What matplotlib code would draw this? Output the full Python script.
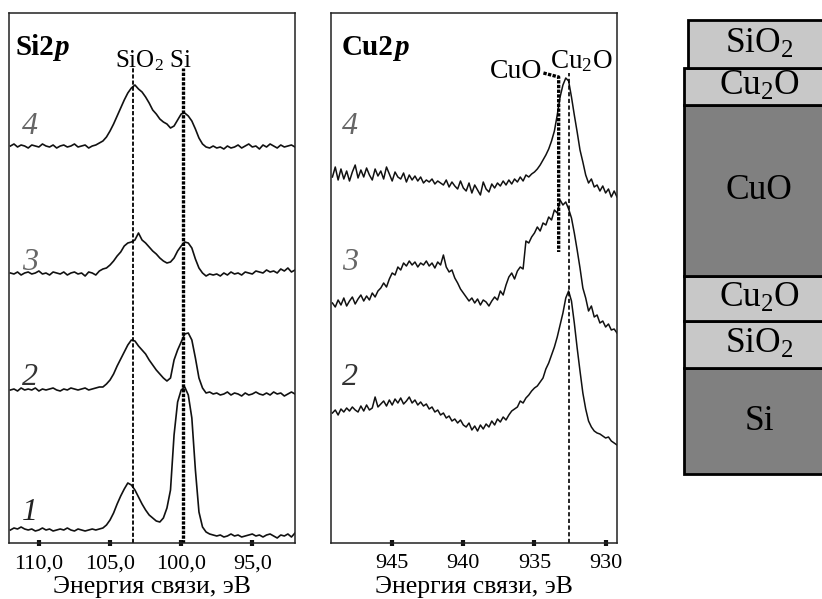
import numpy as np
import matplotlib
matplotlib.use('Agg')
import matplotlib.pyplot as plt

plt.rcParams['font.family'] = ['Liberation Serif', 'DejaVu Serif']
plt.rcParams['mathtext.fontset'] = 'custom'
plt.rcParams['mathtext.rm'] = 'Liberation Serif'
plt.rcParams['mathtext.it'] = 'Liberation Serif:italic'
plt.rcParams['mathtext.bf'] = 'Liberation Serif:bold'
plt.rcParams['lines.scale_dashes'] = False

# ---------------- Si2p data ----------------
si_energy = np.linspace(112.0, 92.0, 81)
si_offsets = [13, 153, 270, 397]          # spectra 1, 2, 3, 4
si_labels = ['1', '2', '3', '4']
si_spec1 = [0, 2, 1, 3, 1, 0, 1, -1, 0, 2, 0, 1, -1, 0, 1, 0, 2, 0, -1, 1, 0, -1, 0, 1, 0, 1,
            2, 5, 10, 17, 26, 34, 41, 47, 45, 40, 33, 26, 20, 15, 12, 9, 8, 12, 22, 40, 95, 128,
            140, 143, 135, 112, 60, 18, 3, -2, -4, -5,
            -6, -5, -7, -6, -4, -6, -5, -7, -6, -5, -4, -6, -5, -7, -5, -4, -6, -8, -5, -6, -4, -7, -3]
si_spec2 = [0, 1, -1, 2, 0, 1, 0, 2, -1, 1, 0, 1, 2, 0, -1, 1, 0, 2, 1, 0, 1, 2, 0, 1, 2, 3,
            3, 6, 10, 16, 24, 31, 38, 45, 50, 49, 44, 40, 36, 30, 25, 20, 16, 12, 9, 12, 30, 40,
            48, 56, 57, 50, 32, 12, 2, -3, -2, -4,
            -3, -5, -4, -2, -5, -3, -4, -6, -3, -5, -4, -2, -4, -5, -3, -5, -2, -4, -3, -6, -4, -2, -4]
si_spec3 = [0, -1, 1, -2, 0, 1, -1, 0, 2, -1, 0, -2, 1, 0, -1, 1, -2, 0, 1, -1, 0, -3, 1, 0, -2, 2,
            4, 5, 8, 12, 17, 21, 27, 30, 31, 33, 40, 33, 30, 26, 22, 19, 15, 12, 10, 11, 15, 22,
            27, 31, 30, 25, 14, 5, 0, -3, -1, -2,
            -1, -3, 0, -2, 1, -1, 0, -2, 1, 0, -1, 2, 1, 0, 3, 1, 2, 0, 4, 2, 5, 1, 3]
si_spec4 = [0, 2, -1, 1, 0, -2, 1, 0, -1, 2, 0, -1, 1, -2, 0, 1, -1, 0, 2, -1, 0, 1, -2, 0, 1, 3,
            5, 9, 15, 22, 30, 38, 46, 53, 58, 61, 57, 54, 49, 43, 36, 32, 27, 24, 22, 18, 20, 26,
            32, 33, 30, 25, 17, 8, 2, -1, -2, 0,
            -2, -1, -3, 0, -2, -1, 1, -2, 0, 2, -1, 0, -3, 1, -1, 2, 0, -2, 1, -1, 0, 1, -1]
si_ticks = [110.0, 105.0, 100.0, 95.0]
si_ticklabels = ['110,0', '105,0', '100,0', '95,0']
si_sio2_pos = 103.4
si_si_pos = 99.9

# ---------------- Cu2p data ----------------
cu_energy = np.linspace(949.2, 929.2, 101)
cu_offsets = [130, 240, 366]              # spectra 2, 3, 4
cu_labels = ['2', '3', '4']
cu_spec2 = [0, 3, -2, 4, 1, 5, 2, 6, 3, 1, 7, 2, 8, 3, 5, 16, 6,
            9, 12, 7, 13, 8, 14, 10, 15, 9, 12, 16, 10, 13, 8, 11,
            7, 9, 4, 6, 1, 3, -2, 0, -5, -3, -8, -6, -10, -7, -12,
            -14, -10, -17, -13, -18, -12, -16, -11, -14, -8, -12, -6, -9, -4, -7,
            -2, 2, 4, 6, 12, 10, 15, 18, 22, 25,
            27, 31, 35, 44, 50, 58, 66, 76, 88, 100, 115, 122,
            112, 90, 65, 42, 20, 4, -8, -14, -18, -20, -21, -23, -25, -24, -28, -30, -32]
cu_spec3 = [0, -4, 3, -2, 5, -3, 2, 6, -1, 4, 8, 2, 7, 3, 10, 6, 12,
            15, 20, 16, 24, 30, 28, 36, 33, 40, 37, 42, 38, 41, 36, 40,
            38, 42, 37, 40, 35, 41, 38, 48, 36, 31, 33, 25, 20, 14, 10,
            6, 2, 5, 0, 4, -2, 3, 1, -3, 2, 6, 3, 12, 8, 18,
            26, 30, 24, 32, 36, 34, 62, 60, 66, 70,
            76, 72, 80, 78, 86, 83, 93, 90, 103, 98, 101, 94,
            85, 70, 53, 35, 15, 5, -8, -3, -14, -12, -20, -18, -24, -21, -27, -26, -30]
cu_spec4 = [0, 10, -3, 8, -2, 6, -4, 5, 12, -1, 7, 0, 9, 2, -3, 8, 1,
            6, -2, 10, 3, -4, 5, 0, -2, 4, -5, 2, -3, 1, -4, 0,
            -6, -3, -5, -2, -7, -4, -6, -8, -3, -10, -5, -9, -12, -4, -11,
            -14, -6, -16, -8, -13, -18, -5, -12, -15, -7, -11, -6, -9, -4, -8,
            -3, -7, -2, -5, 0, -4, 2, 0, 3, 5,
            8, 12, 17, 22, 28, 36, 46, 62, 80, 92, 99, 96,
            80, 62, 45, 27, 15, 2, -6, -2, -10, -8, -14, -9, -16, -12, -20, -14, -20]
cu_ticks = [945, 940, 935, 930]
cu_ticklabels = ['945', '940', '935', '930']
cu_cuo_pos = 933.3
cu_cu2o_pos = 932.6

# ---------------- layer stack (bottom -> top) ----------------
layer_names = ['Si', 'SiO$_2$', 'Cu$_2$O', 'CuO', 'Cu$_2$O', 'SiO$_2$']
layer_thickness = [106, 47, 45, 171, 37, 48]
layer_colors = ['#808080', '#c8c8c8', '#c8c8c8', '#808080', '#c8c8c8', '#c8c8c8']

xlabel = 'Энергия связи, эВ'

W, H = 822, 599
fig = plt.figure(figsize=(W / 100, H / 100), dpi=100)

def px_axes(x0, y0, x1, y1):
    return fig.add_axes([x0 / W, (H - y1) / H, (x1 - x0) / W, (y1 - y0) / H])

ax1 = px_axes(9, 13, 295, 543)
ax2 = px_axes(331, 13, 617, 543)
ax3 = px_axes(684, 20, 830, 474)

num_colors = {'1': '#222222', '2': '#333333', '3': '#666666', '4': '#666666'}
label_y = {'1': 0.057, '2': 0.313, '3': 0.530, '4': 0.785}

def style_axis(ax, ticks, ticklabels):
    for s in ax.spines.values():
        s.set_linewidth(1.1)
        s.set_color('#222222')
    ax.set_yticks([])
    ax.set_xticks(ticks)
    ax.set_xticklabels(ticklabels)
    ax.tick_params(axis='x', direction='inout', length=4, width=3, pad=6,
                   labelsize=16, color='#111111')
    ax.set_xlabel(xlabel, fontsize=18.5, labelpad=2)
    ax.set_ylim(0, 530)

# ---- Si2p panel ----
for spec, off in zip([si_spec1, si_spec2, si_spec3, si_spec4], si_offsets):
    ax1.plot(si_energy, np.array(spec) + off, color='#111111', lw=1.2)
ax1.set_xlim(112.1, 92.0)
style_axis(ax1, si_ticks, si_ticklabels)
ax1.plot([si_sio2_pos, si_sio2_pos], [0, 475], color='black', lw=1.3, ls=(0, (3.0, 1.4)))
ax1.plot([si_si_pos, si_si_pos], [0, 475], color='black', lw=2.4, ls=(0, (2.4, 1.0)))
t1 = ax1.text(0.021, 0.921, 'Si2', transform=ax1.transAxes, fontsize=21,
              fontweight='bold', ha='left', va='baseline')
ax1.annotate('p', xy=(1, 0), xycoords=t1, fontsize=21, fontweight='bold',
             fontstyle='italic', ha='left', va='bottom')
ax1.text(0.371, 0.898, 'SiO$_\\mathrm{2}$ Si', transform=ax1.transAxes, fontsize=18,
         ha='left', va='baseline')
for lab in si_labels:
    ax1.text(0.073, label_y[lab], lab, transform=ax1.transAxes, fontsize=23,
             fontstyle='italic', color=num_colors[lab], ha='center', va='center')

# ---- Cu2p panel ----
for spec, off in zip([cu_spec2, cu_spec3, cu_spec4], cu_offsets):
    ax2.plot(cu_energy, np.array(spec) + off, color='#111111', lw=1.1)
ax2.set_xlim(949.3, 929.2)
style_axis(ax2, cu_ticks, cu_ticklabels)
ax2.plot([cu_cu2o_pos, cu_cu2o_pos], [0, 470], color='black', lw=1.2, ls=(0, (3.0, 1.8)))
ax2.plot([934.37, cu_cuo_pos, cu_cuo_pos], [470, 466, 291], color='black', lw=2.4,
         ls=(0, (2.4, 1.0)))
t2 = ax2.text(0.038, 0.921, 'Cu2', transform=ax2.transAxes, fontsize=21,
              fontweight='bold', ha='left', va='baseline')
ax2.annotate('p', xy=(1, 0), xycoords=t2, fontsize=21, fontweight='bold',
             fontstyle='italic', ha='left', va='bottom')
ax2.text(0.738, 0.878, 'CuO', transform=ax2.transAxes, fontsize=20,
         ha='right', va='baseline')
ax2.text(0.766, 0.896, 'Cu$_\\mathrm{2}$O', transform=ax2.transAxes, fontsize=19.5,
         ha='left', va='baseline')
for lab in cu_labels:
    ax2.text(0.066, label_y[lab], lab, transform=ax2.transAxes, fontsize=23,
             fontstyle='italic', color=num_colors[lab], ha='center', va='center')

# ---- layer stack ----
bottoms = np.concatenate([[0], np.cumsum(layer_thickness)[:-1]])
lefts = [0.0] * (len(layer_names) - 1) + [0.027]
ax3.bar(lefts, layer_thickness, bottom=bottoms, width=1.2, align='edge',
        color=layer_colors, edgecolor='black', linewidth=2.0, clip_on=False)
for name, b, th in zip(layer_names, bottoms, layer_thickness):
    ax3.text(0.514, b + th / 2, name.replace('_2', '_\\mathrm{2}'), fontsize=25.5,
             ha='center', va='center')
ax3.set_xlim(0, 1)
ax3.set_ylim(0, sum(layer_thickness))
ax3.axis('off')

fig.savefig('out.png', dpi=100)
